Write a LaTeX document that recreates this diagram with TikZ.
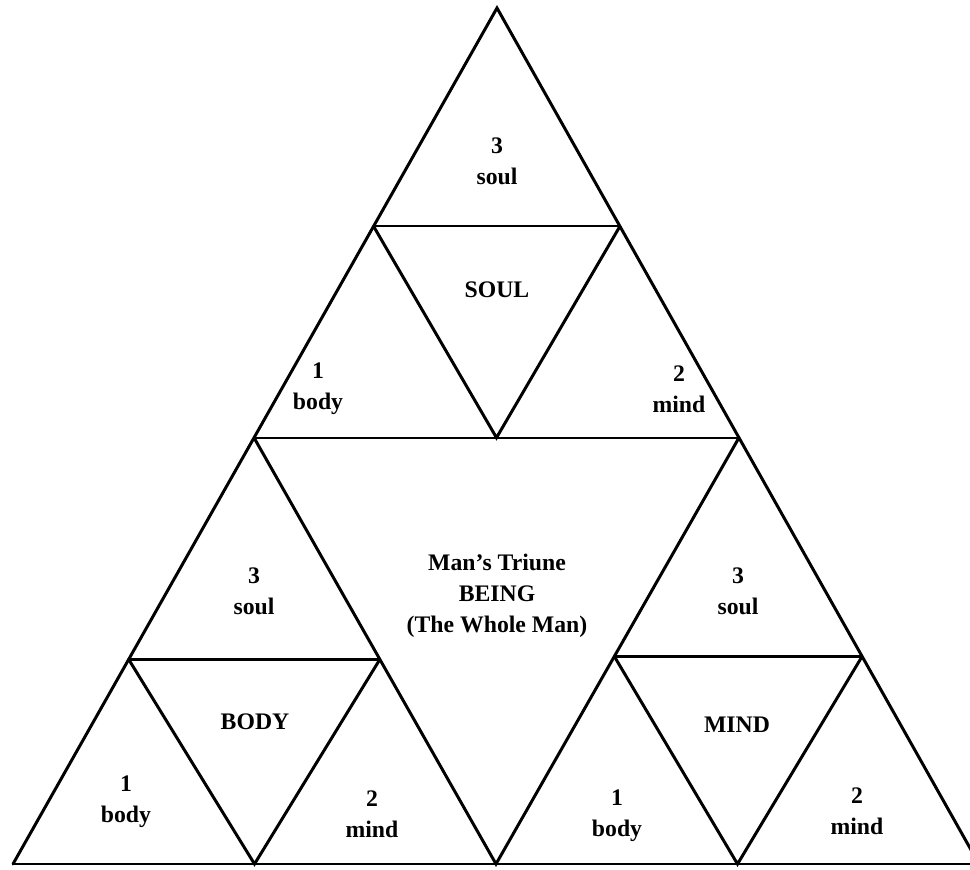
\documentclass[tikz,border=0pt]{standalone}
\usepackage{fontspec}
\setmainfont{Liberation Serif}
\usetikzlibrary{positioning,calc}

\begin{document}
\begin{tikzpicture}[x=0.02cm, y=-0.02cm, every node/.style={align=center, inner sep=1pt, font=\bfseries\fontsize{13.5}{17.5}\selectfont}, side/.style={line width=1.7pt, line join=miter, line cap=round}, base/.style={line width=1.3pt}]
	\useasboundingbox (0,0) rectangle (970,869);
	% outer corners
	\coordinate (A) at (497,8);
	\coordinate (B) at (13,864);
	\coordinate (C) at (979,864);
	% first split
	\coordinate (L) at ($(A)!0.502!(B)$);
	\coordinate (R) at ($(A)!0.502!(C)$);
	\coordinate (M) at ($(B)!0.5!(C)$);
	% second split
	\coordinate (AL) at ($(A)!0.508!(L)$);
	\coordinate (AR) at ($(A)!0.508!(R)$);
	\coordinate (LR) at ($(L)!0.5!(R)$);
	\coordinate (LB) at ($(L)!0.52!(B)$);
	\coordinate (LM) at ($(L)!0.52!(M)$);
	\coordinate (BM) at ($(B)!0.5!(M)$);
	\coordinate (RM) at ($(R)!0.513!(M)$);
	\coordinate (RC) at ($(R)!0.513!(C)$);
	\coordinate (MC) at ($(M)!0.5!(C)$);
	% slanted sides
	\draw[side] (B) -- (A) -- (C);
	\draw[side] (L) -- (M) -- (R);
	\draw[side] (AL) -- (LR) -- (AR);
	\draw[side] (LB) -- (BM) -- (LM);
	\draw[side] (RM) -- (MC) -- (RC);
	% level lines
	\draw[base] (B) -- (C);
	\draw[base] (L) -- (R);
	\draw[base] (AL) -- (AR);
	\draw[base] (LB) -- (LM);
	\draw[base] (RM) -- (RC);
	% labels
	\node (topsoul) at (497,161) {3\\soul};
	\node (SOUL) at (497,290) {SOUL};
	\node (topbody) at (318,389) {1\\body};
	\node (topmind) at (679,389) {2\\mind};
	\node (whole) at (497,596) {Man's Triune\\BEING\\(The Whole Man)};
	\node (lsoul) at (254,591) {3\\soul};
	\node (BODY) at (255,722) {BODY};
	\node (lbody) at (126,802) {1\\body};
	\node (lmind) at (372,814) {2\\mind};
	\node (rsoul) at (738,591) {3\\soul};
	\node (MIND) at (737,725) {MIND};
	\node (rbody) at (617,816) {1\\body};
	\node (rmind) at (857,811) {2\\mind};
\end{tikzpicture}
\end{document}
